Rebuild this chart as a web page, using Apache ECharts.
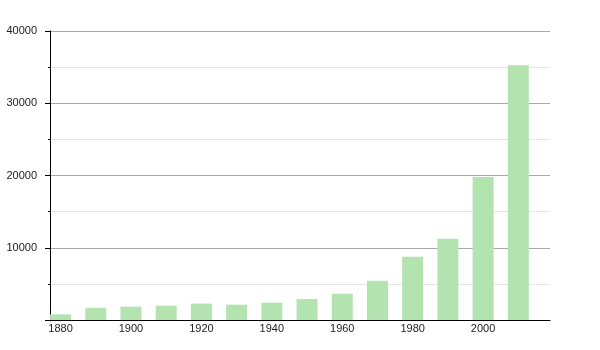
<!DOCTYPE html>
<html>
<head>
<meta charset="utf-8">
<script src="https://cdn.jsdelivr.net/npm/echarts@6/dist/echarts.min.js"></script>
<style>html,body{margin:0;padding:0;background:#fff}#c{width:600px;height:350px}</style>
</head>
<body>
<div id="c"></div>
<script>
const years = [1880,1890,1900,1910,1920,1930,1940,1950,1960,1970,1980,1990,2000,2010];
const population = [780,1680,1840,1980,2260,2120,2400,2900,3630,5430,8740,11230,19790,35260];
const xTickLabels = [1880,1900,1920,1940,1960,1980,2000];
const yTickLabels = [10000,20000,30000,40000];

const chart = echarts.init(document.getElementById('c'), null, {renderer:'canvas'});
chart.setOption({
  animation: false,
  grid: {left: 50, right: 50, top: 31, bottom: 30, containLabel: false},
  xAxis: {
    type: 'value', min: 1877, max: 2019,
    axisLine: {show: true, lineStyle: {color: '#000', width: 1}},
    axisTick: {show: false},
    splitLine: {show: false},
    axisLabel: {customValues: xTickLabels, color: '#222', fontFamily: 'Liberation Sans, Arial, sans-serif', fontSize: 11, margin: 3,
      formatter: v => String(v)}
  },
  yAxis: {
    type: 'value', min: 0, max: 40000, interval: 10000,
    axisLine: {show: true, lineStyle: {color: '#000', width: 1}},
    axisTick: {show: true, length: 5, lineStyle: {color: '#000'}},
    minorTick: {show: true, splitNumber: 2, length: 2, lineStyle: {color: '#000'}},
    splitLine: {show: true, lineStyle: {color: '#a9a9a9', width: 1}},
    minorSplitLine: {show: true, lineStyle: {color: '#e6e6e6', width: 1}},
    axisLabel: {color: '#222', fontFamily: 'Liberation Sans, Arial, sans-serif', fontSize: 11, margin: 13,
      formatter: v => (yTickLabels.indexOf(v) >= 0 ? String(v) : '')}
  },
  series: [{
    type: 'bar',
    data: years.map((y, i) => [y, population[i]]),
    barWidth: 21,
    itemStyle: {color: '#b3e4b0'}
  }]
});
</script>
</body>
</html>
